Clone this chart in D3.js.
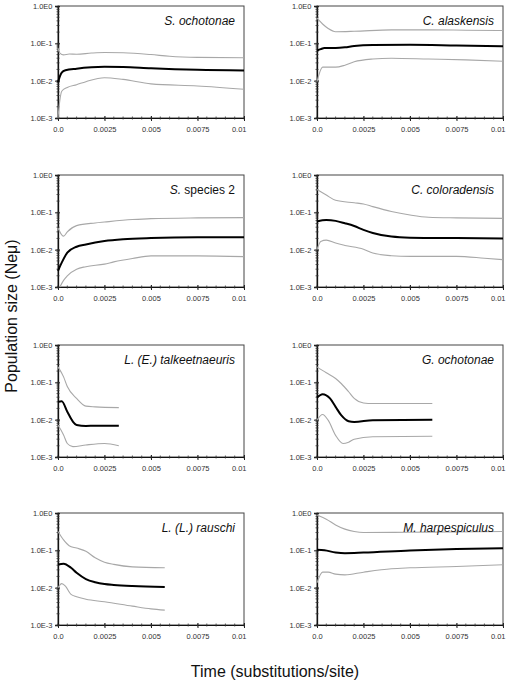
<!DOCTYPE html>
<html><head><meta charset="utf-8">
<script src="https://cdn.jsdelivr.net/npm/d3@7"></script>
<style>body{margin:0;background:#fff}svg{display:block}</style>
</head><body>
<script>
// ---- data (time in substitutions/site, population size Neμ) ----
const panelNames = ["S. ochotonae","C. alaskensis","S. species 2","C. coloradensis","L. (E.) talkeetnaeuris","G. ochotonae","L. (L.) rauschi","M. harpespiculus"];
const xTicks = [0, 0.0025, 0.005, 0.0075, 0.01];
const xTickLabels = ["0.0","0.0025","0.005","0.0075","0.01"];
const yTicks = [1, 0.1, 0.01, 0.001];
const yTickLabels = ["1.0E0","1.0E-1","1.0E-2","1.0E-3"];

const sOchotonaeUpper = [[0,0.075],[0.0001,0.055],[0.0003,0.049],[0.0006,0.052],[0.001,0.051],[0.0018,0.055],[0.0025,0.057],[0.0035,0.056],[0.005,0.05],[0.006,0.045],[0.0075,0.042],[0.01,0.041]];
const sOchotonaeMedian = [[0,0.009],[0.0001,0.013],[0.0002,0.0165],[0.0004,0.019],[0.001,0.021],[0.0018,0.0228],[0.0025,0.0235],[0.0035,0.0232],[0.005,0.0214],[0.0075,0.0195],[0.01,0.0188]];
const sOchotonaeLower = [[0,0.001],[0.0001,0.003],[0.0002,0.0052],[0.0005,0.0066],[0.001,0.0078],[0.0015,0.0094],[0.0025,0.012],[0.0035,0.0108],[0.005,0.0082],[0.0075,0.0072],[0.01,0.0059]];

const cAlaskensisUpper = [[0,0.47],[0.0003,0.33],[0.0006,0.25],[0.001,0.205],[0.002,0.21],[0.004,0.23],[0.006,0.23],[0.008,0.225],[0.01,0.22]];
const cAlaskensisMedian = [[0,0.064],[0.0002,0.07],[0.0004,0.075],[0.001,0.075],[0.0015,0.078],[0.002,0.085],[0.003,0.09],[0.005,0.091],[0.0075,0.087],[0.01,0.083]];
const cAlaskensisLower = [[0,0.0094],[0.0003,0.023],[0.001,0.023],[0.0015,0.026],[0.002,0.032],[0.003,0.038],[0.004,0.04],[0.006,0.038],[0.008,0.036],[0.01,0.033]];

const sSpecies2Upper = [[0,0.038],[0.0002,0.025],[0.0003,0.023],[0.0005,0.03],[0.001,0.044],[0.002,0.052],[0.0025,0.055],[0.004,0.064],[0.005,0.068],[0.0075,0.071],[0.01,0.072]];
const sSpecies2Median = [[0,0.0027],[0.0002,0.0045],[0.0005,0.0083],[0.001,0.012],[0.0015,0.0138],[0.0025,0.017],[0.0035,0.019],[0.005,0.0205],[0.0075,0.0215],[0.01,0.0215]];
const sSpecies2Lower = [[0.0001,0.001],[0.0003,0.0015],[0.0005,0.002],[0.001,0.003],[0.0015,0.0035],[0.0025,0.0041],[0.003,0.0047],[0.004,0.0058],[0.005,0.0068],[0.0075,0.0068],[0.01,0.0065]];

const cColoradensisUpper = [[0,0.41],[0.0005,0.29],[0.001,0.21],[0.002,0.18],[0.0025,0.168],[0.003,0.142],[0.004,0.105],[0.005,0.085],[0.006,0.074],[0.0075,0.071],[0.01,0.069]];
const cColoradensisMedian = [[0,0.057],[0.0005,0.062],[0.001,0.059],[0.0015,0.051],[0.002,0.043],[0.0025,0.034],[0.003,0.028],[0.004,0.0224],[0.005,0.021],[0.0075,0.0204],[0.01,0.02]];
const cColoradensisLower = [[0,0.01],[0.0002,0.0166],[0.0005,0.018],[0.001,0.015],[0.0015,0.013],[0.0025,0.0103],[0.003,0.0081],[0.004,0.0069],[0.005,0.0066],[0.0075,0.0066],[0.009,0.0059],[0.01,0.0054]];

const lTalkeetnaeurisUpper = [[0,0.26],[0.0003,0.14],[0.0005,0.077],[0.001,0.037],[0.0015,0.023],[0.002,0.022],[0.00327,0.021]];
const lTalkeetnaeurisMedian = [[0,0.03],[0.0002,0.031],[0.0005,0.0163],[0.0008,0.0089],[0.001,0.0072],[0.0015,0.0068],[0.002,0.0069],[0.00327,0.0069]];
const lTalkeetnaeurisLower = [[0,0.0072],[0.0003,0.0039],[0.0005,0.0023],[0.0008,0.0019],[0.0015,0.0021],[0.0025,0.0023],[0.00327,0.002]];

const gOchotonaeUpper = [[0,0.26],[0.0005,0.18],[0.001,0.127],[0.0013,0.093],[0.0017,0.056],[0.002,0.037],[0.0025,0.028],[0.003,0.027],[0.0062,0.027]];
const gOchotonaeMedian = [[0,0.039],[0.0003,0.048],[0.0007,0.037],[0.001,0.022],[0.0013,0.0132],[0.0017,0.0091],[0.002,0.0087],[0.003,0.0097],[0.0062,0.01]];
const gOchotonaeLower = [[0,0.0097],[0.0003,0.0138],[0.0006,0.0097],[0.001,0.0038],[0.0014,0.0023],[0.0017,0.0025],[0.002,0.003],[0.003,0.0035],[0.0062,0.0036]];

const lRauschiUpper = [[0,0.32],[0.0003,0.19],[0.0006,0.133],[0.001,0.115],[0.0015,0.094],[0.002,0.063],[0.0025,0.048],[0.003,0.042],[0.004,0.036],[0.00574,0.034]];
const lRauschiMedian = [[0,0.0416],[0.0003,0.044],[0.0007,0.034],[0.001,0.025],[0.0015,0.017],[0.002,0.014],[0.0025,0.0125],[0.003,0.0118],[0.004,0.011],[0.00574,0.0104]];
const lRauschiLower = [[0,0.01],[0.0002,0.0128],[0.0004,0.011],[0.0007,0.0066],[0.001,0.0057],[0.0015,0.0049],[0.0025,0.0042],[0.004,0.0032],[0.005,0.0027],[0.00574,0.0025]];

const mHarpespiculusUpper = [[0,0.88],[0.0005,0.68],[0.001,0.48],[0.0015,0.37],[0.002,0.32],[0.0025,0.3],[0.005,0.305],[0.0075,0.31],[0.01,0.32]];
const mHarpespiculusMedian = [[0,0.104],[0.0004,0.1],[0.001,0.088],[0.0015,0.084],[0.0025,0.087],[0.005,0.099],[0.0075,0.108],[0.01,0.114]];
const mHarpespiculusLower = [[0,0.0134],[0.0003,0.026],[0.0006,0.026],[0.001,0.023],[0.0015,0.022],[0.0025,0.026],[0.004,0.032],[0.005,0.034],[0.0075,0.037],[0.01,0.041]];

const panels = [
  {name: panelNames[0], upper: sOchotonaeUpper, median: sOchotonaeMedian, lower: sOchotonaeLower},
  {name: panelNames[1], upper: cAlaskensisUpper, median: cAlaskensisMedian, lower: cAlaskensisLower},
  {name: panelNames[2], upper: sSpecies2Upper, median: sSpecies2Median, lower: sSpecies2Lower},
  {name: panelNames[3], upper: cColoradensisUpper, median: cColoradensisMedian, lower: cColoradensisLower},
  {name: panelNames[4], upper: lTalkeetnaeurisUpper, median: lTalkeetnaeurisMedian, lower: lTalkeetnaeurisLower},
  {name: panelNames[5], upper: gOchotonaeUpper, median: gOchotonaeMedian, lower: gOchotonaeLower},
  {name: panelNames[6], upper: lRauschiUpper, median: lRauschiMedian, lower: lRauschiLower},
  {name: panelNames[7], upper: mHarpespiculusUpper, median: mHarpespiculusMedian, lower: mHarpespiculusLower}
];

// ---- layout ----
const W = 510, H = 684;
const colLeft = [58, 317], rowTop = [6, 175, 345, 513];
const pw = 186, ph = 112;
const font = "'Liberation Sans', Arial, sans-serif";

const svg = d3.select("body").append("svg").attr("width", W).attr("height", H);

const x = d3.scaleLinear().domain([0, 0.01]).range([0, pw]);
const y = d3.scaleLog().domain([0.001, 1]).range([ph, 0]);
const line = d3.line().x(d => x(d[0])).y(d => y(d[1])).curve(d3.curveMonotoneX);

const minorX = d3.range(0, 0.01 + 1e-9, 0.0005);
const minorY = [];
[0.001, 0.01, 0.1].forEach(b => { for (let k = 1; k <= 9; k++) minorY.push(b * k); });

panels.forEach((p, i) => {
  const g = svg.append("g").attr("transform", `translate(${colLeft[i % 2]},${rowTop[Math.floor(i / 2)]})`);
  // frame
  g.append("rect").attr("width", pw).attr("height", ph).attr("fill", "none").attr("stroke", "#444").attr("stroke-width", 1);

  // x axis
  const xa = g.append("g").attr("transform", `translate(0,${ph})`)
    .call(d3.axisBottom(x).tickValues(xTicks).tickFormat((d, j) => xTickLabels[j]).tickSize(3).tickPadding(6));
  xa.select(".domain").attr("stroke", "#111");
  xa.selectAll("text").attr("font-family", font).attr("font-size", 7.5).attr("fill", "#333")
    .attr("text-anchor", (d, j) => j === xTicks.length - 1 ? "end" : "middle")
    .attr("dx", (d, j) => j === xTicks.length - 1 ? 2 : 0);
  xa.selectAll(".tick line").attr("stroke", "#222").attr("y1", -2);
  g.append("g").selectAll("line").data(minorX).join("line")
    .attr("x1", d => x(d)).attr("x2", d => x(d)).attr("y1", ph - 1.5).attr("y2", ph + 1.5)
    .attr("stroke", "#333").attr("stroke-width", 0.8);

  // y axis
  const ya = g.append("g")
    .call(d3.axisLeft(y).tickValues(yTicks).tickFormat((d, j) => yTickLabels[j]).tickSize(3).tickPadding(2.5));
  ya.select(".domain").attr("stroke", "#111").attr("stroke-width", 1.3);
  ya.selectAll("text").attr("font-family", font).attr("font-size", 7.5).attr("fill", "#333");
  ya.selectAll(".tick line").attr("stroke", "#222").attr("x1", 2);
  g.append("g").selectAll("line").data(minorY).join("line")
    .attr("x1", -1.5).attr("x2", 1.5).attr("y1", d => y(d)).attr("y2", d => y(d))
    .attr("stroke", "#333").attr("stroke-width", 0.8);

  // lines
  g.append("path").datum(p.upper).attr("d", line).attr("fill", "none").attr("stroke", "#a8a8a8").attr("stroke-width", 1.1);
  g.append("path").datum(p.lower).attr("d", line).attr("fill", "none").attr("stroke", "#a8a8a8").attr("stroke-width", 1.1);
  g.append("path").datum(p.median).attr("d", line).attr("fill", "none").attr("stroke", "#000").attr("stroke-width", 2);

  // title
  const t = g.append("text").attr("x", pw - 9).attr("y", 19).attr("text-anchor", "end")
    .attr("font-family", font).attr("font-size", 12).attr("fill", "#111");
  if (p.name === "S. species 2") {
    t.append("tspan").attr("font-style", "italic").text("S.");
    t.append("tspan").text(" species 2");
  } else {
    t.attr("font-style", "italic").text(p.name);
  }
});

// axis titles
svg.append("text").attr("transform", "translate(17,316) rotate(-90)").attr("text-anchor", "middle")
  .attr("font-family", font).attr("font-size", 16).attr("fill", "#111").text("Population size (Neμ)");
svg.append("text").attr("x", 275).attr("y", 677).attr("text-anchor", "middle")
  .attr("font-family", font).attr("font-size", 16).attr("fill", "#111").text("Time (substitutions/site)");
</script>
</body></html>
